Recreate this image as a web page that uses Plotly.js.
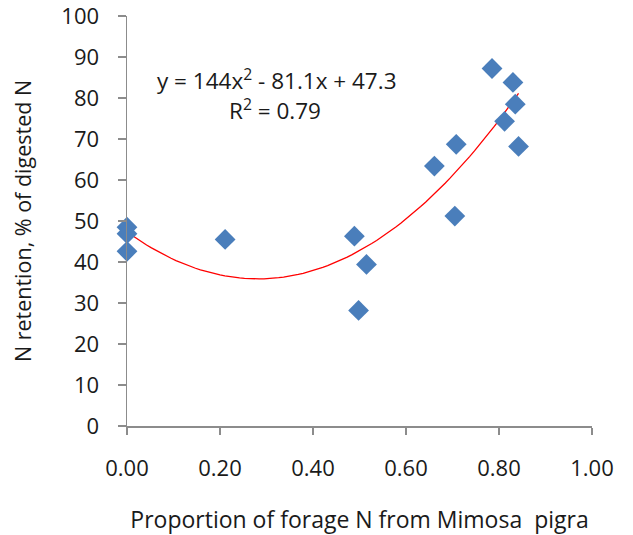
<!DOCTYPE html>
<html>
<head>
<meta charset="utf-8">
<script src="https://cdn.plot.ly/plotly-3.0.1.min.js"></script>
<style>html,body{margin:0;padding:0;background:#fff;}#chart{width:633px;height:535px;}</style>
</head>
<body>
<div id="chart"></div>
<script>
// Observed points
const mimosaProportion = [0.00, 0.00, 0.00, 0.211, 0.489, 0.515, 0.498, 0.661, 0.708, 0.705, 0.785, 0.830, 0.835, 0.812, 0.842];
const nRetention      = [48.5, 46.9, 42.6, 45.5, 46.3, 39.4, 28.2, 63.4, 68.7, 51.2, 87.2, 83.8, 78.5, 74.3, 68.2];

// Polynomial trendline coefficients as printed on the chart: y = a x^2 + b x + c
const trendCoefs = [144, -81.1, 47.3];
const trendRange = [0, 0.842];

const xTickVals = [0, 0.2, 0.4, 0.6, 0.8, 1.0];
const xTickText = ['0.00', '0.20', '0.40', '0.60', '0.80', '1.00'];
const yTickVals = [0, 10, 20, 30, 40, 50, 60, 70, 80, 90, 100];

const eqText = 'y = 144x<sup>2</sup> - 81.1x + 47.3';
const r2Text = 'R<sup>2</sup> = 0.79';
const xTitle = 'Proportion of forage N from Mimosa  pigra';
const yTitle = 'N retention, % of digested N';

// trendline curve evaluated from the printed equation
const trendX = [], trendY = [];
const steps = 80;
for (let i = 0; i <= steps; i++) {
  const x = trendRange[0] + (trendRange[1] - trendRange[0]) * i / steps;
  trendX.push(x);
  trendY.push(trendCoefs[0] * x * x + trendCoefs[1] * x + trendCoefs[2]);
}

const font = 'Open Sans, Lato, sans-serif';
const axisColor = '#8c8c8c';
const txt = '#1a1a1a';

const data = [
  {
    x: trendX, y: trendY, type: 'scatter', mode: 'lines',
    line: {color: '#ff0000', width: 1.3},
    hoverinfo: 'skip', showlegend: false
  },
  {
    x: mimosaProportion, y: nRetention, type: 'scatter', mode: 'markers',
    marker: {symbol: 'diamond', size: 16, color: '#4a7ebb'},
    cliponaxis: false,
    hoverinfo: 'x+y', showlegend: false
  }
];

const layout = {
  width: 633, height: 535,
  margin: {l: 127, r: 41, t: 16, b: 109},
  paper_bgcolor: '#ffffff', plot_bgcolor: '#ffffff',
  font: {family: font, size: 22, color: txt},
  showlegend: false,
  xaxis: {
    range: [0, 1], tickvals: xTickVals, ticktext: xTickText,
    showgrid: false, zeroline: false,
    showline: true, linecolor: axisColor, linewidth: 1.5,
    ticks: 'outside', ticklen: 7, tickwidth: 1.5, tickcolor: axisColor,
    tickfont: {family: font, size: 22, color: txt},
    ticklabelstandoff: 15, ticklabeloverflow: 'allow',
    title: {text: xTitle, font: {family: font, size: 23, color: txt}, standoff: 31}
  },
  yaxis: {
    range: [0, 100], tickvals: yTickVals,
    showgrid: false, zeroline: false,
    showline: true, linecolor: axisColor, linewidth: 1.5,
    ticks: 'outside', ticklen: 8, tickwidth: 1.5, tickcolor: axisColor,
    tickfont: {family: font, size: 22, color: txt},
    ticklabelstandoff: 14, ticklabeloverflow: 'allow',
    title: {text: yTitle, font: {family: font, size: 21.5, color: txt}, standoff: 24}
  },
  annotations: [
    {xref: 'paper', yref: 'paper', x: 0.323, y: 0.846, text: eqText, showarrow: false,
     xanchor: 'center', yanchor: 'middle', font: {family: font, size: 22.5, color: txt}},
    {xref: 'paper', yref: 'paper', x: 0.319, y: 0.771, text: r2Text, showarrow: false,
     xanchor: 'center', yanchor: 'middle', font: {family: font, size: 22.5, color: txt}}
  ]
};

Plotly.newPlot('chart', data, layout, {displayModeBar: false, staticPlot: true});
</script>
</body>
</html>
